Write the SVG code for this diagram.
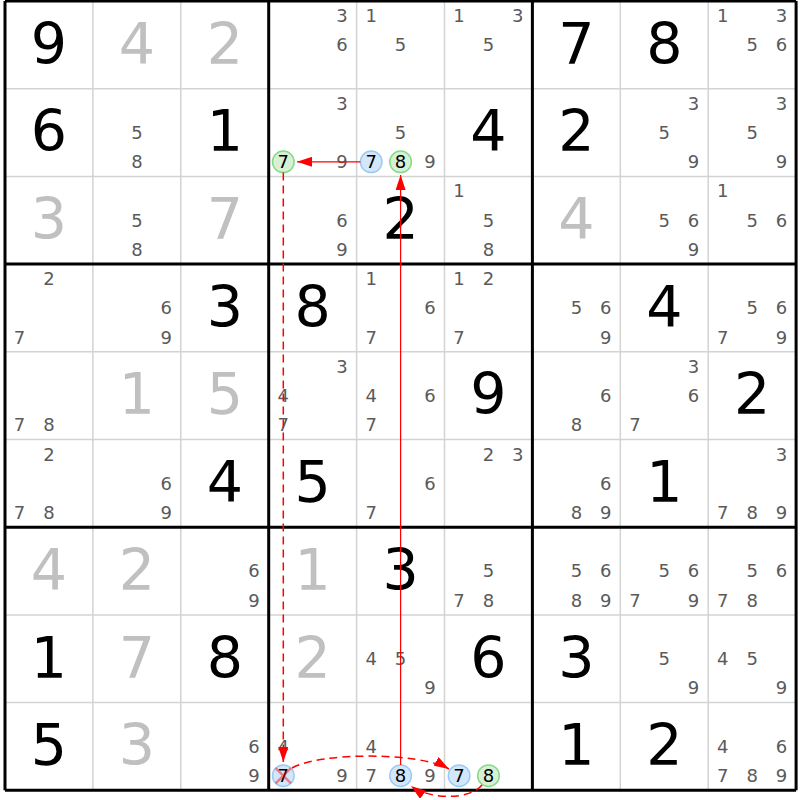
<svg xmlns="http://www.w3.org/2000/svg" width="800" height="800" viewBox="0 0 800 800">
<style>
text{font-family:"DejaVu Sans","Liberation Sans",sans-serif;text-anchor:middle}
.g{font-size:57px;fill:#000}
.p{font-size:57px;fill:#c0c0c0}
.c{font-size:18px;fill:#5a5a5a}
.k{font-size:18px;fill:#000}
.thin{stroke:#d3d3d3;stroke-width:1.5}
.thick{stroke:#000;stroke-width:3}
.cb{fill:#d3e7fb;stroke:#9ccaf2;stroke-width:1.5}
.cg{fill:#d6f1d6;stroke:#88d988;stroke-width:1.5}
.arr{fill:none;stroke:#ff0000;stroke-width:1.2}
.dash{fill:none;stroke:#ff0000;stroke-width:1.5;stroke-dasharray:8,5}
</style>
<defs>
<marker id="ah" markerUnits="userSpaceOnUse" markerWidth="15" markerHeight="10" refX="15" refY="5" orient="auto"><path d="M0,0 L15,5 L0,10 Z" fill="#ff0000"/></marker>
</defs>
<rect width="800" height="800" fill="#fff"/>
<g id="grid">
<path class="thin" d="M92.9,1V790.3M180.8,1V790.3M356.6,1V790.3M444.5,1V790.3M620.3,1V790.3M708.2,1V790.3M5,88.7H796.1M5,176.4H796.1M5,351.8H796.1M5,439.5H796.1M5,614.9H796.1M5,702.6H796.1"/>
<path class="thick" d="M5,1V790.3M268.7,1V790.3M532.4,1V790.3M796.1,1V790.3M5,1H796.1M5,264.1H796.1M5,527.2H796.1M5,790.3H796.1"/>
</g>
<!-- Row 1 -->
<g id="r1c1" transform="translate(5,1)"><text class="g" x="44" y="62.7">9</text></g>
<g id="r1c2" transform="translate(92.9,1)"><text class="p" x="44" y="62.7">4</text></g>
<g id="r1c3" transform="translate(180.8,1)"><text class="p" x="44" y="62.7">2</text></g>
<g id="r1c4" transform="translate(268.7,1)"><text class="c" x="73.3" y="21">3</text><text class="c" x="73.3" y="50.3">6</text></g>
<g id="r1c5" transform="translate(356.6,1)"><text class="c" x="14.6" y="21">1</text><text class="c" x="44" y="50.3">5</text></g>
<g id="r1c6" transform="translate(444.5,1)"><text class="c" x="14.6" y="21">1</text><text class="c" x="73.3" y="21">3</text><text class="c" x="44" y="50.3">5</text></g>
<g id="r1c7" transform="translate(532.4,1)"><text class="g" x="44" y="62.7">7</text></g>
<g id="r1c8" transform="translate(620.3,1)"><text class="g" x="44" y="62.7">8</text></g>
<g id="r1c9" transform="translate(708.2,1)"><text class="c" x="14.6" y="21">1</text><text class="c" x="73.3" y="21">3</text><text class="c" x="44" y="50.3">5</text><text class="c" x="73.3" y="50.3">6</text></g>
<!-- Row 2 -->
<g id="r2c1" transform="translate(5,88.7)"><text class="g" x="44" y="62.7">6</text></g>
<g id="r2c2" transform="translate(92.9,88.7)"><text class="c" x="44" y="50.3">5</text><text class="c" x="44" y="79.6">8</text></g>
<g id="r2c3" transform="translate(180.8,88.7)"><text class="g" x="44" y="62.7">1</text></g>
<g id="r2c4" transform="translate(268.7,88.7)"><text class="c" x="73.3" y="21">3</text><circle class="cg" cx="14.6" cy="73.1" r="10.8"/><text class="k" x="14.6" y="79.6">7</text><text class="c" x="73.3" y="79.6">9</text></g>
<g id="r2c5" transform="translate(356.6,88.7)"><text class="c" x="44" y="50.3">5</text><circle class="cb" cx="14.6" cy="73.1" r="10.8"/><text class="k" x="14.6" y="79.6">7</text><circle class="cg" cx="44" cy="73.1" r="10.8"/><text class="k" x="44" y="79.6">8</text><text class="c" x="73.3" y="79.6">9</text></g>
<g id="r2c6" transform="translate(444.5,88.7)"><text class="g" x="44" y="62.7">4</text></g>
<g id="r2c7" transform="translate(532.4,88.7)"><text class="g" x="44" y="62.7">2</text></g>
<g id="r2c8" transform="translate(620.3,88.7)"><text class="c" x="73.3" y="21">3</text><text class="c" x="44" y="50.3">5</text><text class="c" x="73.3" y="79.6">9</text></g>
<g id="r2c9" transform="translate(708.2,88.7)"><text class="c" x="73.3" y="21">3</text><text class="c" x="44" y="50.3">5</text><text class="c" x="73.3" y="79.6">9</text></g>
<!-- Row 3 -->
<g id="r3c1" transform="translate(5,176.4)"><text class="p" x="44" y="62.7">3</text></g>
<g id="r3c2" transform="translate(92.9,176.4)"><text class="c" x="44" y="50.3">5</text><text class="c" x="44" y="79.6">8</text></g>
<g id="r3c3" transform="translate(180.8,176.4)"><text class="p" x="44" y="62.7">7</text></g>
<g id="r3c4" transform="translate(268.7,176.4)"><text class="c" x="73.3" y="50.3">6</text><text class="c" x="73.3" y="79.6">9</text></g>
<g id="r3c5" transform="translate(356.6,176.4)"><text class="g" x="44" y="62.7">2</text></g>
<g id="r3c6" transform="translate(444.5,176.4)"><text class="c" x="14.6" y="21">1</text><text class="c" x="44" y="50.3">5</text><text class="c" x="44" y="79.6">8</text></g>
<g id="r3c7" transform="translate(532.4,176.4)"><text class="p" x="44" y="62.7">4</text></g>
<g id="r3c8" transform="translate(620.3,176.4)"><text class="c" x="44" y="50.3">5</text><text class="c" x="73.3" y="50.3">6</text><text class="c" x="73.3" y="79.6">9</text></g>
<g id="r3c9" transform="translate(708.2,176.4)"><text class="c" x="14.6" y="21">1</text><text class="c" x="44" y="50.3">5</text><text class="c" x="73.3" y="50.3">6</text></g>
<!-- Row 4 -->
<g id="r4c1" transform="translate(5,264.1)"><text class="c" x="44" y="21">2</text><text class="c" x="14.6" y="79.6">7</text></g>
<g id="r4c2" transform="translate(92.9,264.1)"><text class="c" x="73.3" y="50.3">6</text><text class="c" x="73.3" y="79.6">9</text></g>
<g id="r4c3" transform="translate(180.8,264.1)"><text class="g" x="44" y="62.7">3</text></g>
<g id="r4c4" transform="translate(268.7,264.1)"><text class="g" x="44" y="62.7">8</text></g>
<g id="r4c5" transform="translate(356.6,264.1)"><text class="c" x="14.6" y="21">1</text><text class="c" x="73.3" y="50.3">6</text><text class="c" x="14.6" y="79.6">7</text></g>
<g id="r4c6" transform="translate(444.5,264.1)"><text class="c" x="14.6" y="21">1</text><text class="c" x="44" y="21">2</text><text class="c" x="14.6" y="79.6">7</text></g>
<g id="r4c7" transform="translate(532.4,264.1)"><text class="c" x="44" y="50.3">5</text><text class="c" x="73.3" y="50.3">6</text><text class="c" x="73.3" y="79.6">9</text></g>
<g id="r4c8" transform="translate(620.3,264.1)"><text class="g" x="44" y="62.7">4</text></g>
<g id="r4c9" transform="translate(708.2,264.1)"><text class="c" x="44" y="50.3">5</text><text class="c" x="73.3" y="50.3">6</text><text class="c" x="14.6" y="79.6">7</text><text class="c" x="73.3" y="79.6">9</text></g>
<!-- Row 5 -->
<g id="r5c1" transform="translate(5,351.8)"><text class="c" x="14.6" y="79.6">7</text><text class="c" x="44" y="79.6">8</text></g>
<g id="r5c2" transform="translate(92.9,351.8)"><text class="p" x="44" y="62.7">1</text></g>
<g id="r5c3" transform="translate(180.8,351.8)"><text class="p" x="44" y="62.7">5</text></g>
<g id="r5c4" transform="translate(268.7,351.8)"><text class="c" x="73.3" y="21">3</text><text class="c" x="14.6" y="50.3">4</text><text class="c" x="14.6" y="79.6">7</text></g>
<g id="r5c5" transform="translate(356.6,351.8)"><text class="c" x="14.6" y="50.3">4</text><text class="c" x="73.3" y="50.3">6</text><text class="c" x="14.6" y="79.6">7</text></g>
<g id="r5c6" transform="translate(444.5,351.8)"><text class="g" x="44" y="62.7">9</text></g>
<g id="r5c7" transform="translate(532.4,351.8)"><text class="c" x="73.3" y="50.3">6</text><text class="c" x="44" y="79.6">8</text></g>
<g id="r5c8" transform="translate(620.3,351.8)"><text class="c" x="73.3" y="21">3</text><text class="c" x="73.3" y="50.3">6</text><text class="c" x="14.6" y="79.6">7</text></g>
<g id="r5c9" transform="translate(708.2,351.8)"><text class="g" x="44" y="62.7">2</text></g>
<!-- Row 6 -->
<g id="r6c1" transform="translate(5,439.5)"><text class="c" x="44" y="21">2</text><text class="c" x="14.6" y="79.6">7</text><text class="c" x="44" y="79.6">8</text></g>
<g id="r6c2" transform="translate(92.9,439.5)"><text class="c" x="73.3" y="50.3">6</text><text class="c" x="73.3" y="79.6">9</text></g>
<g id="r6c3" transform="translate(180.8,439.5)"><text class="g" x="44" y="62.7">4</text></g>
<g id="r6c4" transform="translate(268.7,439.5)"><text class="g" x="44" y="62.7">5</text></g>
<g id="r6c5" transform="translate(356.6,439.5)"><text class="c" x="73.3" y="50.3">6</text><text class="c" x="14.6" y="79.6">7</text></g>
<g id="r6c6" transform="translate(444.5,439.5)"><text class="c" x="44" y="21">2</text><text class="c" x="73.3" y="21">3</text></g>
<g id="r6c7" transform="translate(532.4,439.5)"><text class="c" x="73.3" y="50.3">6</text><text class="c" x="44" y="79.6">8</text><text class="c" x="73.3" y="79.6">9</text></g>
<g id="r6c8" transform="translate(620.3,439.5)"><text class="g" x="44" y="62.7">1</text></g>
<g id="r6c9" transform="translate(708.2,439.5)"><text class="c" x="73.3" y="21">3</text><text class="c" x="14.6" y="79.6">7</text><text class="c" x="44" y="79.6">8</text><text class="c" x="73.3" y="79.6">9</text></g>
<!-- Row 7 -->
<g id="r7c1" transform="translate(5,527.2)"><text class="p" x="44" y="62.7">4</text></g>
<g id="r7c2" transform="translate(92.9,527.2)"><text class="p" x="44" y="62.7">2</text></g>
<g id="r7c3" transform="translate(180.8,527.2)"><text class="c" x="73.3" y="50.3">6</text><text class="c" x="73.3" y="79.6">9</text></g>
<g id="r7c4" transform="translate(268.7,527.2)"><text class="p" x="44" y="62.7">1</text></g>
<g id="r7c5" transform="translate(356.6,527.2)"><text class="g" x="44" y="62.7">3</text></g>
<g id="r7c6" transform="translate(444.5,527.2)"><text class="c" x="44" y="50.3">5</text><text class="c" x="14.6" y="79.6">7</text><text class="c" x="44" y="79.6">8</text></g>
<g id="r7c7" transform="translate(532.4,527.2)"><text class="c" x="44" y="50.3">5</text><text class="c" x="73.3" y="50.3">6</text><text class="c" x="44" y="79.6">8</text><text class="c" x="73.3" y="79.6">9</text></g>
<g id="r7c8" transform="translate(620.3,527.2)"><text class="c" x="44" y="50.3">5</text><text class="c" x="73.3" y="50.3">6</text><text class="c" x="14.6" y="79.6">7</text><text class="c" x="73.3" y="79.6">9</text></g>
<g id="r7c9" transform="translate(708.2,527.2)"><text class="c" x="44" y="50.3">5</text><text class="c" x="73.3" y="50.3">6</text><text class="c" x="14.6" y="79.6">7</text><text class="c" x="44" y="79.6">8</text></g>
<!-- Row 8 -->
<g id="r8c1" transform="translate(5,614.9)"><text class="g" x="44" y="62.7">1</text></g>
<g id="r8c2" transform="translate(92.9,614.9)"><text class="p" x="44" y="62.7">7</text></g>
<g id="r8c3" transform="translate(180.8,614.9)"><text class="g" x="44" y="62.7">8</text></g>
<g id="r8c4" transform="translate(268.7,614.9)"><text class="p" x="44" y="62.7">2</text></g>
<g id="r8c5" transform="translate(356.6,614.9)"><text class="c" x="14.6" y="50.3">4</text><text class="c" x="44" y="50.3">5</text><text class="c" x="73.3" y="79.6">9</text></g>
<g id="r8c6" transform="translate(444.5,614.9)"><text class="g" x="44" y="62.7">6</text></g>
<g id="r8c7" transform="translate(532.4,614.9)"><text class="g" x="44" y="62.7">3</text></g>
<g id="r8c8" transform="translate(620.3,614.9)"><text class="c" x="44" y="50.3">5</text><text class="c" x="73.3" y="79.6">9</text></g>
<g id="r8c9" transform="translate(708.2,614.9)"><text class="c" x="14.6" y="50.3">4</text><text class="c" x="44" y="50.3">5</text><text class="c" x="73.3" y="79.6">9</text></g>
<!-- Row 9 -->
<g id="r9c1" transform="translate(5,702.6)"><text class="g" x="44" y="62.7">5</text></g>
<g id="r9c2" transform="translate(92.9,702.6)"><text class="p" x="44" y="62.7">3</text></g>
<g id="r9c3" transform="translate(180.8,702.6)"><text class="c" x="73.3" y="50.3">6</text><text class="c" x="73.3" y="79.6">9</text></g>
<g id="r9c4" transform="translate(268.7,702.6)"><text class="c" x="14.6" y="50.3">4</text><circle class="cb" cx="14.6" cy="73.1" r="10.8"/><text class="k" x="14.6" y="79.6">7</text><path d="M7,65.5L22.2,80.7M22.2,65.5L7,80.7" stroke="#ff0000" stroke-opacity="0.45" stroke-width="2.5"/><text class="c" x="73.3" y="79.6">9</text></g>
<g id="r9c5" transform="translate(356.6,702.6)"><text class="c" x="14.6" y="50.3">4</text><text class="c" x="14.6" y="79.6">7</text><circle class="cb" cx="44" cy="73.1" r="10.8"/><text class="k" x="44" y="79.6">8</text><text class="c" x="73.3" y="79.6">9</text></g>
<g id="r9c6" transform="translate(444.5,702.6)"><circle class="cb" cx="14.6" cy="73.1" r="10.8"/><text class="k" x="14.6" y="79.6">7</text><circle class="cg" cx="44" cy="73.1" r="10.8"/><text class="k" x="44" y="79.6">8</text></g>
<g id="r9c7" transform="translate(532.4,702.6)"><text class="g" x="44" y="62.7">1</text></g>
<g id="r9c8" transform="translate(620.3,702.6)"><text class="g" x="44" y="62.7">2</text></g>
<g id="r9c9" transform="translate(708.2,702.6)"><text class="c" x="14.6" y="50.3">4</text><text class="c" x="73.3" y="50.3">6</text><text class="c" x="14.6" y="79.6">7</text><text class="c" x="44" y="79.6">8</text><text class="c" x="73.3" y="79.6">9</text></g>
<!-- Connectors -->
<g id="connectors">
<path class="arr" d="M400.6,764.9V175" marker-end="url(#ah)"/>
<path class="arr" d="M360.4,161.8H297" marker-end="url(#ah)"/>
<path class="dash" d="M283.3,172.6V762" marker-end="url(#ah)"/>
<path class="dash" d="M292,768C320,752 420,752 449,769" marker-end="url(#ah)"/>
<path class="dash" d="M482,785C470,800 430,800 411,786" marker-end="url(#ah)"/>
</g>
</svg>
